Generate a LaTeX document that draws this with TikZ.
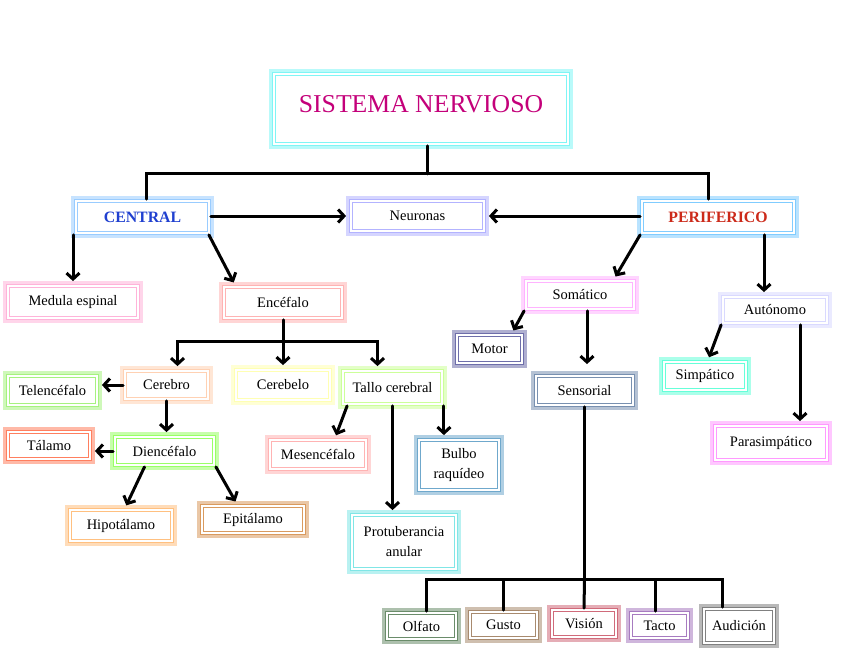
\documentclass[tikz,border=0pt]{standalone}
\usepackage{fontspec}
\setmainfont{Liberation Serif}
\usetikzlibrary{arrows.meta}

\definecolor{cyanglow}{HTML}{7FF5F5}
\definecolor{titletext}{HTML}{C4007A}
\definecolor{centraltext}{HTML}{2040D0}
\definecolor{peritext}{HTML}{CC2A1A}
\definecolor{centralc}{HTML}{99CCFF}
\definecolor{neuronasc}{HTML}{B3B3FF}
\definecolor{perifericoc}{HTML}{80CCFF}
\definecolor{medulac}{HTML}{FFB3D9}
\definecolor{encefaloc}{HTML}{FFB3B3}
\definecolor{cerebroc}{HTML}{FFD1B3}
\definecolor{cerebeloc}{HTML}{FFFFB3}
\definecolor{talloc}{HTML}{CCFF99}
\definecolor{telencefaloc}{HTML}{A6F27F}
\definecolor{diencefaloc}{HTML}{99FF66}
\definecolor{talamoc}{HTML}{FF7F5F}
\definecolor{hipotalamoc}{HTML}{FFC080}
\definecolor{epitalamoc}{HTML}{D99A5E}
\definecolor{mesencefaloc}{HTML}{FFB3B3}
\definecolor{bulboc}{HTML}{6FA8CC}
\definecolor{protuberanciac}{HTML}{80E6E6}
\definecolor{somaticoc}{HTML}{FFB3FF}
\definecolor{motorc}{HTML}{6E6EAA}
\definecolor{sensorialc}{HTML}{7890B0}
\definecolor{autonomoc}{HTML}{D9D9FF}
\definecolor{simpaticoc}{HTML}{66FFD9}
\definecolor{parasimpaticoc}{HTML}{FF99FF}
\definecolor{olfatoc}{HTML}{6A8C6A}
\definecolor{gustoc}{HTML}{A88A6E}
\definecolor{visionc}{HTML}{D06A7A}
\definecolor{tactoc}{HTML}{A77BC0}
\definecolor{audicionc}{HTML}{808080}

\tikzset{
  box/.style={draw=#1, line width=3.8pt, fill=white,
    preaction={draw=#1!55, line width=10pt},
    postaction={draw=white, line width=1.3pt},
    font=\fontsize{14.5}{20}\selectfont, inner sep=2pt, align=center},
  link/.style={line width=3pt, line cap=round},
  arrow/.style={link, -{Straight Barb[length=6pt,width=13pt]}, shorten >=3pt},
}

\begin{document}
\begin{tikzpicture}[x=1pt, y=-1pt]
    \useasboundingbox (0,0) rectangle (848,655);

    % Title
    \node[box=cyanglow, minimum width=294pt, minimum height=70pt, text depth=11pt,
          font=\fontsize{25.7}{28}\selectfont, text=titletext] (title) at (421,109) {SISTEMA NERVIOSO};

    % Main branches
    \node[box=centralc, minimum width=133pt, minimum height=32pt,
          font=\fontsize{15.8}{18}\selectfont\bfseries, text=centraltext] (central) at (142.5,217) {CENTRAL};
    \node[box=neuronasc, minimum width=133pt, minimum height=30pt] (neuronas) at (417.5,216) {Neuronas};
    \node[box=perifericoc, minimum width=152pt, minimum height=32pt,
          font=\fontsize{15.8}{18}\selectfont\bfseries, text=peritext] (periferico) at (718,217) {PERIFERICO};

    % Central system
    \node[box=medulac, minimum width=130pt, minimum height=32pt] (medula) at (73,302) {Medula espinal};
    \node[box=encefaloc, minimum width=118pt, minimum height=31pt] (encefalo) at (283,302.5) {Encéfalo};
    \node[box=cerebroc, minimum width=83pt, minimum height=28pt] (cerebro) at (166.5,385) {Cerebro};
    \node[box=cerebeloc, minimum width=94pt, minimum height=30pt] (cerebelo) at (283,385) {Cerebelo};
    \node[box=talloc, minimum width=99pt, minimum height=33pt] (tallo) at (392.5,387.5) {Tallo cerebral};
    \node[box=telencefaloc, minimum width=89pt, minimum height=29pt] (telencefalo) at (52.5,390.5) {Telencéfalo};
    \node[box=diencefaloc, minimum width=99pt, minimum height=28pt] (diencefalo) at (164.5,451) {Diencéfalo};
    \node[box=talamoc, minimum width=82pt, minimum height=27pt] (talamo) at (49,445.5) {Tálamo};
    \node[box=hipotalamoc, minimum width=102pt, minimum height=31pt] (hipotalamo) at (121,525.5) {Hipotálamo};
    \node[box=epitalamoc, minimum width=102pt, minimum height=27pt] (epitalamo) at (253,519.5) {Epitálamo};
    \node[box=mesencefaloc, minimum width=96pt, minimum height=29pt] (mesencefalo) at (318,454.5) {Mesencéfalo};
    \node[box=bulboc, minimum width=80pt, minimum height=50pt] (bulbo) at (459,465) {Bulbo\\raquídeo};
    \node[box=protuberanciac, minimum width=104pt, minimum height=54pt] (protuberancia) at (404,542) {Protuberancia\\anular};

    % Peripheral system
    \node[box=somaticoc, minimum width=108pt, minimum height=28pt] (somatico) at (580,295) {Somático};
    \node[box=motorc, minimum width=65pt, minimum height=28pt] (motor) at (489.5,349) {Motor};
    \node[box=sensorialc, minimum width=97pt, minimum height=29pt] (sensorial) at (584.5,390.5) {Sensorial};
    \node[box=autonomoc, minimum width=104pt, minimum height=26pt] (autonomo) at (775,310) {Autónomo};
    \node[box=simpaticoc, minimum width=82pt, minimum height=28pt] (simpatico) at (705,376) {Simpático};
    \node[box=parasimpaticoc, minimum width=112pt, minimum height=34pt] (parasimpatico) at (771,443) {Parasimpático};

    % Senses
    \node[box=olfatoc, minimum width=69pt, minimum height=26pt] (olfato) at (421.5,626) {Olfato};
    \node[box=gustoc, minimum width=67pt, minimum height=26pt] (gusto) at (503.5,625) {Gusto};
    \node[box=visionc, minimum width=64pt, minimum height=27pt] (vision) at (584,623.5) {Visión};
    \node[box=tactoc, minimum width=57pt, minimum height=25pt] (tacto) at (659.5,625.5) {Tacto};
    \node[box=audicionc, minimum width=70pt, minimum height=34pt] (audicion) at (739,626) {Audición};

    % Title to branches
    \draw[link] ([xshift=6pt]title.south) -- ++(0,28) coordinate (thub);
    \draw[link] (thub) -| ([xshift=4pt]central.north);
    \draw[link] (thub) -| ([xshift=-10pt]periferico.north);
    \draw[arrow] (central.east |- neuronas.west) -- (neuronas.west);
    \draw[arrow] (periferico.west |- neuronas.east) -- (neuronas.east);

    % Central connectors
    \draw[arrow] (medula.north |- central.south) -- (medula.north);
    \draw[arrow] ([xshift=-2pt]central.south east) -- ([xshift=13pt]encefalo.north west);
    \draw[link] (encefalo.south) -- ++(0,22) coordinate (ehub);
    \draw[arrow] (ehub) -| ([xshift=11pt]cerebro.north);
    \draw[arrow] (ehub) -- (cerebelo.north);
    \draw[arrow] (ehub) -| ([xshift=-15pt]tallo.north);
    \draw[arrow] (cerebro.west) -- (telencefalo.east |- cerebro.west);
    \draw[arrow] (cerebro.south) -- (cerebro.south |- diencefalo.north);
    \draw[arrow] (diencefalo.west) -- (talamo.east |- diencefalo.west);
    \draw[arrow] ([xshift=-20pt]diencefalo.south) -- ([xshift=4pt]hipotalamo.north);
    \draw[arrow] (diencefalo.south east) -- ([xshift=-16pt]epitalamo.north);
    \draw[arrow] ([xshift=6pt]tallo.south west) -- ([xshift=17pt]mesencefalo.north);
    \draw[arrow] (tallo.south east) -- (tallo.south east |- bulbo.north);
    \draw[arrow] (tallo.south) -- (tallo.south |- protuberancia.north);

    % Peripheral connectors
    \draw[arrow] (periferico.south west) -- ([xshift=34pt]somatico.north);
    \draw[arrow] ([xshift=46pt]periferico.south) -- ([xshift=-11pt]autonomo.north);
    \draw[arrow] (somatico.south west) -- ([xshift=-12pt]motor.north east);
    \draw[arrow, shorten >=10pt] ([xshift=7pt]somatico.south) -- ([xshift=2.5pt]sensorial.north);
    \draw[arrow] (autonomo.south west) -- ([xshift=3pt]simpatico.north);
    \draw[arrow] ([xshift=25pt]autonomo.south) -- ([xshift=29pt]parasimpatico.north);

    % Senses
    \draw[link] (sensorial.south) -- ++(0,173) coordinate (shub);
    \draw[link] (shub) -| ([xshift=5pt]olfato.north);
    \draw[link] (shub) -| (gusto.north);
    \draw[link] (shub) -- (vision.north);
    \draw[link] (shub) -| ([xshift=-4pt]tacto.north);
    \draw[link] (shub) -| ([xshift=-17pt]audicion.north);
\end{tikzpicture}
\end{document}
